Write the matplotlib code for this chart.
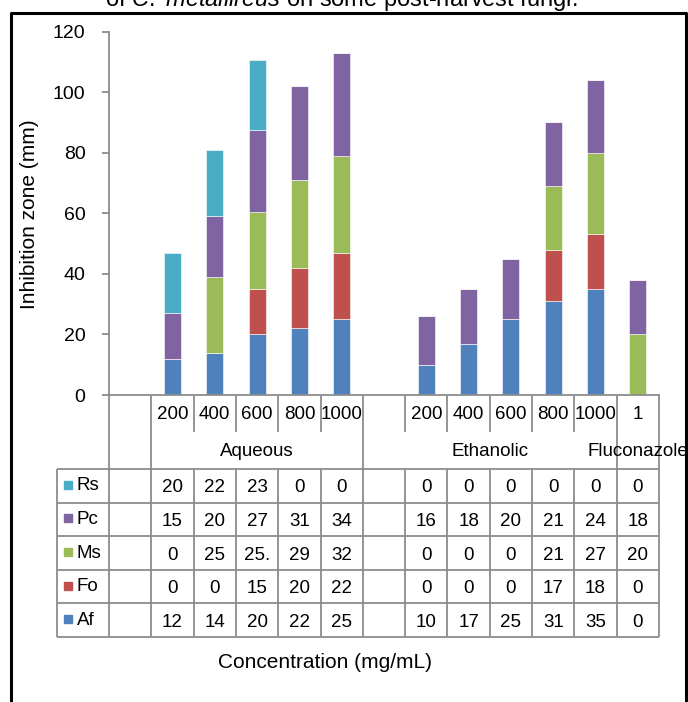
import matplotlib
matplotlib.use('Agg')
import matplotlib.pyplot as plt
from matplotlib.patches import Rectangle
from matplotlib.lines import Line2D
import numpy as np

plt.rcParams['font.family'] = ['Liberation Sans', 'DejaVu Sans']
plt.rcParams['mathtext.fontset'] = 'custom'
plt.rcParams['mathtext.rm'] = 'Liberation Sans'
plt.rcParams['mathtext.it'] = 'Liberation Sans:italic'

# categories (blank columns are the spacer rows of the sheet)
concs = ['', '200', '400', '600', '800', '1000', '', '200', '400', '600', '800', '1000', '1']
groups = [('', 0, 0), ('Aqueous', 1, 5), ('Ethanolic', 6, 11), ('Fluconazole', 12, 12)]

Af = [None, 12, 14, 20, 22, 25, None, 10, 17, 25, 31, 35, 0]
Fo = [None, 0, 0, 15, 20, 22, None, 0, 0, 0, 17, 18, 0]
Ms = [None, 0, 25, 25.5, 29, 32, None, 0, 0, 0, 21, 27, 20]
Pc = [None, 15, 20, 27, 31, 34, None, 16, 18, 20, 21, 24, 18]
Rs = [None, 20, 22, 23, 0, 0, None, 0, 0, 0, 0, 0, 0]

series = [('Af', Af, '#4f81bd'), ('Fo', Fo, '#c0504d'), ('Ms', Ms, '#9bbb59'),
          ('Pc', Pc, '#8064a2'), ('Rs', Rs, '#4bacc6')]

W, H = 688, 702
fig = plt.figure(figsize=(W / 100, H / 100), dpi=100)


def box(l, t, r, b):
    return [l / W, 1 - b / H, (r - l) / W, (b - t) / H]


grid = '#8c8c8c'
fs = 13.5
n = len(concs)
x = np.arange(n)

ax = fig.add_axes(box(109, 31.5, 659, 395))
bottom = np.zeros(n)
for name, vals, col in series:
    v = np.array([np.nan if a is None else a for a in vals], float)
    ax.bar(x, v, 0.4, bottom=bottom, color=col, edgecolor='white', linewidth=0.4)
    bottom += np.nan_to_num(v)

ax.set_xlim(-0.5, n - 0.5)
ax.set_ylim(0, 120)
ax.set_yticks(range(0, 121, 20))
ax.set_xticks([])
for s in ['top', 'right']:
    ax.spines[s].set_visible(False)
for s in ['left', 'bottom']:
    ax.spines[s].set_color(grid)
    ax.spines[s].set_linewidth(1.3)
ax.tick_params(axis='y', colors=grid, labelcolor='black', length=5, width=1.3,
               labelsize=14, pad=12)
fig.text(30 / W, 1 - 214 / H, 'Inhibition zone (mm)', rotation=90,
         ha='center', va='center', fontsize=15)

# data table under the axis
colw = 550 / n
xl = -0.5 - 52 / colw
tab = fig.add_axes(box(57, 395, 659, 637))
tab.set_xlim(xl, n - 0.5)
tab.set_ylim(637, 395)
tab.axis('off')

r1, r2, r3 = 395, 432, 469
rh = (637 - r3) / 5
kw = dict(color=grid, lw=1.3, clip_on=False, solid_capstyle='butt')

full = set()
for g, a, b in groups:
    full.add(a - 0.5)
    full.add(b + 0.5)
for b in np.arange(-0.5, n, 1.0):
    if b in full:
        tab.plot([b, b], [r1, 637], **kw)
    else:
        tab.plot([b, b], [r1, r2], **kw)
        tab.plot([b, b], [r3, 637], **kw)
tab.plot([xl, xl], [r3, 637], **kw)
for i in range(6):
    y = r3 + i * rh
    tab.plot([xl, n - 0.5], [y, y], **kw)

for i, c in enumerate(concs):
    tab.text(i, (r1 + r2) / 2 + 1, c, ha='center', va='center', fontsize=fs)
for g, a, b in groups:
    tab.text((a + b) / 2, (r2 + r3) / 2 + 1, g, ha='center', va='center', fontsize=fs)

for k, (name, vals, col) in enumerate(series[::-1]):
    yc = r3 + (k + 0.5) * rh
    tab.add_patch(Rectangle((xl + 7 / colw, yc - 5), 8 / colw, 8, color=col, clip_on=False))
    tab.text(xl + 20 / colw, yc, name, ha='left', va='center', fontsize=fs)
    for i, v in enumerate(vals):
        if v is None:
            continue
        tab.text(i, yc + 2, f'{v:g}'[:3], ha='center', va='center', fontsize=fs)

fig.text(325 / W, 1 - 662 / H, 'Concentration (mg/mL)', ha='center', va='center', fontsize=15)

# caption line cut at the top and the outer frame
fig.text(341 / W, 1 - 6 / H, r'of $\mathit{C.\ metallireus}$ on some post-harvest fungi.',
         ha='center', va='baseline', fontsize=17)
fx = [11.5 / W, 11.5 / W, 686 / W, 686 / W]
fy = [-0.05, 1 - 13 / H, 1 - 13 / H, -0.05]
fig.add_artist(Line2D(fx, fy, transform=fig.transFigure, color='black', lw=2.2))

fig.savefig('out.png', dpi=100)
